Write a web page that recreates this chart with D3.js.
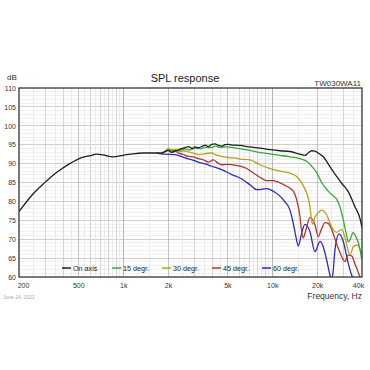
<!DOCTYPE html>
<html><head><meta charset="utf-8">
<script src="https://cdn.jsdelivr.net/npm/d3@7"></script>
<style>
html,body{margin:0;padding:0;background:#fff;}
svg{display:block;font-family:Arial,"Liberation Sans",sans-serif;}
</style></head>
<body>
<svg id="chart" width="370" height="370"></svg>
<script>
// ---------- data ----------
const yTicks = [60,65,70,75,80,85,90,95,100,105,110];
const xTickValues = [200,500,1000,2000,5000,10000,20000,40000];
const xTickLabels = ["200","500","1k","2k","5k","10k","20k","40k"];
const seriesNames = ["On axis","15 degr.","30 degr.","45 degr.","60 degr."];
const seriesColors = ["#1e1e1e","#36a936","#b3a31c","#b33434","#2a2abd"];

const onAxisF  = [200,250,300,340,383,430,488,540,599,664,732,854,1000,1163,1358,1685,1800,1907,2007,2100,2225,2400,2597,2733,2900,3030,3190,3400,3540,3720,3920,4130,4350,4580,4820,5070,5340,5620,6070,7090,8270,9650,11270,13150,15340,16570,17430,18370,19340,20350,21980,24380,27030,29210,32340,35870,38750,40000];
const onAxisDb = [77.3,82.1,85.1,87.0,88.5,89.8,91.0,91.7,92.1,92.5,92.3,91.8,92.2,92.6,92.8,92.8,92.7,93.2,93.5,93.0,93.3,93.8,94.2,94.5,94.0,94.4,94.2,94.6,94.9,94.5,95.1,95.2,94.8,94.6,95.0,95.1,94.9,94.9,94.8,94.4,94.1,93.7,93.4,93.2,92.5,92.2,92.8,93.4,93.3,92.8,91.8,89.2,86.6,84.8,82.6,78.6,75.5,73.0];

const deg15F  = [1685,1800,1907,2007,2100,2225,2400,2597,2800,3030,3300,3540,3900,4130,4500,4820,5340,5920,7090,8270,9650,11270,13150,15340,17010,18840,19860,21450,23170,25020,27030,28450,29940,31550,32340,33200,34940,36200,37740,40000];
const deg15Db = [92.8,92.7,93.1,93.6,93.0,93.2,93.5,93.9,93.6,94.1,93.9,94.3,94.2,94.6,94.3,94.4,94.3,94.0,93.5,92.9,92.6,92.2,91.8,91.3,90.6,88.8,87.6,85.0,83.2,81.8,80.6,78.6,75.1,71.0,69.3,69.8,71.8,70.8,69.2,64.5];

const deg30F  = [1685,1800,1907,2007,2100,2225,2342,2550,2733,2950,3190,3500,3920,4200,4580,5100,5920,6070,7090,8270,9650,11270,13150,14580,15750,17010,17430,17900,18600,19340,20350,21450,23170,25020,27030,29210,30740,32340,33200,34940,37160,40000];
const deg30Db = [92.8,92.7,93.2,94.0,93.6,93.8,93.1,93.4,93.1,92.8,92.4,92.6,92.8,92.3,91.9,91.6,91.3,91.2,91.0,89.7,88.7,88.0,87.5,86.6,84.9,82.2,80.9,78.5,74.0,75.8,77.0,77.7,76.4,73.3,71.8,72.6,70.5,67.0,65.8,68.0,68.5,66.0];

const deg45F  = [1685,1800,1907,2007,2225,2342,2500,2733,2950,3190,3450,3720,4020,4300,4580,5000,5620,6070,6730,7460,8270,9170,10160,11270,12500,13830,14580,15340,15750,16140,16570,17010,17900,18370,19340,20350,21450,22570,23740,25020,27030,28450,30740,32340,34080,35870,38750,40000];
const deg45Db = [92.8,92.9,93.2,93.6,93.4,92.8,92.5,91.9,91.8,91.3,91.0,90.4,91.0,90.2,89.7,89.8,89.6,89.3,88.7,87.5,86.4,85.5,85.5,84.9,84.0,82.7,80.5,76.0,72.0,70.3,71.5,73.2,75.8,75.5,73.8,70.7,72.8,74.4,74.2,72.6,68.8,66.5,64.1,65.8,65.6,63.5,60.0,58.5];

const deg60F  = [1685,1800,1907,2225,2597,2900,3190,3550,3920,4580,5340,6070,7090,7860,8500,9170,10160,11270,12170,13150,13830,14400,14940,15750,16570,17900,19340,20890,21980,23170,24380,25020,25700,26330,28020,29940,32340,34080,35870,38000,40000];
const deg60Db = [92.8,92.6,92.5,92.4,91.5,91.0,90.4,89.9,89.3,88.4,87.1,86.2,84.4,83.1,83.2,83.4,82.7,81.4,79.9,77.7,74.2,70.7,68.2,71.6,73.9,72.0,66.7,69.4,68.0,64.5,60.5,59.0,62.0,67.1,71.4,69.4,63.6,60.5,59.0,57.0,58.0];

// ---------- layout ----------
const svg = d3.select("#chart");
const L = 19, R = 362, T = 88, B = 277;
const x = d3.scaleLog().domain([200, 40000]).range([L, R]);
const y = d3.scaleLinear().domain([60, 110]).range([B, T]);

svg.append("rect").attr("width",370).attr("height",370).attr("fill","#fff");

// grid
const g = svg.append("g");
// minor horizontal every 1 dB
g.selectAll(".hmin").data(d3.range(61,110)).enter().append("line")
  .attr("x1",L).attr("x2",R).attr("y1",d=>y(d)).attr("y2",d=>y(d))
  .attr("stroke", d=> d%5===0 ? "#c4c4c4" : "#ececec").attr("stroke-width",0.8)
  .attr("shape-rendering","crispEdges");

// vertical log grid
const vHalf = [], vInt = [];
[100,1000,10000].forEach(dec=>{
  for (let k=1; k<=10; k+=0.5){
    const f = dec*k;
    if (f<=200 || f>=40000) continue;
    if (Number.isInteger(k)) vInt.push(f); else vHalf.push(f);
  }
});
g.selectAll(".vh").data(vHalf).enter().append("line")
  .attr("x1",d=>x(d)).attr("x2",d=>x(d)).attr("y1",T).attr("y2",B)
  .attr("stroke","#e6e6e6").attr("stroke-width",0.8).attr("shape-rendering","crispEdges");
g.selectAll(".vi").data(vInt).enter().append("line")
  .attr("x1",d=>x(d)).attr("x2",d=>x(d)).attr("y1",T).attr("y2",B)
  .attr("stroke",d=> xTickValues.includes(d) ? "#b4b4b4" : "#cdcdcd").attr("stroke-width",0.8)
  .attr("shape-rendering","crispEdges");

// clip
svg.append("clipPath").attr("id","clip").append("rect")
  .attr("x",L).attr("y",T).attr("width",R-L).attr("height",B-T);

const seriesF = [onAxisF, deg15F, deg30F, deg45F, deg60F];
const seriesDb = [onAxisDb, deg15Db, deg30Db, deg45Db, deg60Db];
const line = d3.line().x(d=>x(d[0])).y(d=>y(d[1])).curve(d3.curveMonotoneX);
const curves = svg.append("g").attr("clip-path","url(#clip)");
for (let i = seriesF.length-1; i>=0; i--){
  const pts = seriesF[i].map((f,j)=>[f, seriesDb[i][j]]);
  curves.append("path").datum(pts).attr("d",line)
    .attr("fill","none").attr("stroke",seriesColors[i]).attr("stroke-width",1.3)
    .attr("stroke-linejoin","round");
}

// frame
svg.append("rect").attr("x",L).attr("y",T).attr("width",R-L).attr("height",B-T)
  .attr("fill","none").attr("stroke","#333").attr("stroke-width",1.3);

// axes (labels only, via d3 axes)
const yAxis = d3.axisLeft(y).tickValues(yTicks).tickSize(0).tickPadding(3);
const ya = svg.append("g").attr("transform",`translate(${L},0)`).call(yAxis);
ya.select(".domain").remove();
ya.selectAll("text").attr("font-size",7).attr("fill","#333").attr("font-family","Arial, 'Liberation Sans', sans-serif");

const xAxis = d3.axisBottom(x).tickValues(xTickValues).tickFormat((d,i)=>xTickLabels[i]).tickSize(0).tickPadding(6);
const xa = svg.append("g").attr("transform",`translate(0,${B})`).call(xAxis);
xa.select(".domain").remove();
xa.selectAll("text").attr("font-size",7).attr("fill","#333").attr("font-family","Arial, 'Liberation Sans', sans-serif")
  .attr("dx",(d)=> d===200 ? 4 : (d===40000 ? -4 : 0));

// texts
svg.append("text").attr("x",185).attr("y",82).attr("text-anchor","middle")
  .attr("font-size",11).attr("fill","#222").text("SPL response");
svg.append("text").attr("x",7).attr("y",80).attr("font-size",8).attr("fill","#333").text("dB");
svg.append("text").attr("x",361).attr("y",86).attr("text-anchor","end")
  .attr("font-size",8).attr("fill","#333").text("TW030WA11");
svg.append("text").attr("x",362).attr("y",299).attr("text-anchor","end")
  .attr("font-size",8.5).attr("fill","#333").text("Frequency, Hz");
svg.append("text").attr("x",3).attr("y",299).attr("font-size",5).attr("fill","#aaa").text("June 24, 2022");

// legend
const leg = svg.append("g");
seriesNames.forEach((n,i)=>{
  const lx = 62 + i*50, ly = 268;
  leg.append("line").attr("x1",lx).attr("x2",lx+9).attr("y1",ly).attr("y2",ly)
    .attr("stroke",seriesColors[i]).attr("stroke-width",1.5);
  leg.append("text").attr("x",lx+11).attr("y",ly+2.5).attr("font-size",7.2).attr("fill","#222").text(n);
});
</script>
</body></html>
